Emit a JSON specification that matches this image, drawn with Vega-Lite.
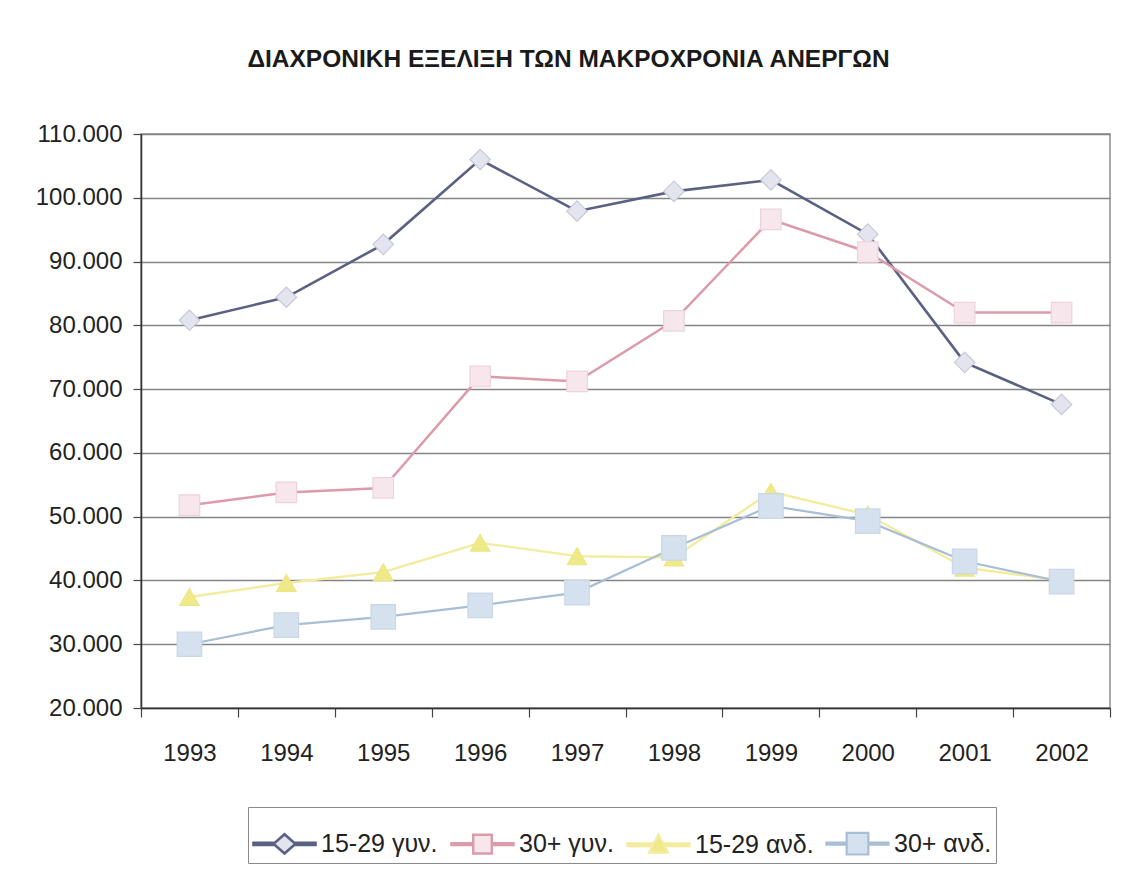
{
  "$schema": "https://vega.github.io/schema/vega-lite/v6.json",
  "width": 969,
  "height": 574,
  "autosize": "none",
  "padding": {"left": 141, "top": 134, "right": 13, "bottom": 167},
  "background": "#ffffff",
  "title": {
    "text": "ΔΙΑΧΡΟΝΙΚΗ ΕΞΕΛΙΞΗ ΤΩΝ ΜΑΚΡΟΧΡΟΝΙΑ ΑΝΕΡΓΩΝ",
    "font": "Liberation Sans",
    "fontSize": 24.5,
    "fontWeight": "bold",
    "color": "#1a1a1a",
    "anchor": "middle",
    "dx": -57,
    "offset": 50
  },
  "config": {
    "view": {"stroke": "#8c8c8c", "strokeWidth": 1.5},
    "axis": {
      "labelFont": "Liberation Sans",
      "labelFontSize": 24,
      "labelColor": "#222222",
      "domainColor": "#333333",
      "domainWidth": 1.5,
      "tickColor": "#444444",
      "tickWidth": 1.2,
      "title": null
    }
  },
  "data": {
    "values": [
      {"year": "1993", "series": "15-29 γυν.", "value": 80800},
      {"year": "1994", "series": "15-29 γυν.", "value": 84400},
      {"year": "1995", "series": "15-29 γυν.", "value": 92700},
      {"year": "1996", "series": "15-29 γυν.", "value": 106000},
      {"year": "1997", "series": "15-29 γυν.", "value": 97900},
      {"year": "1998", "series": "15-29 γυν.", "value": 101000},
      {"year": "1999", "series": "15-29 γυν.", "value": 102800},
      {"year": "2000", "series": "15-29 γυν.", "value": 94300},
      {"year": "2001", "series": "15-29 γυν.", "value": 74200},
      {"year": "2002", "series": "15-29 γυν.", "value": 67600},
      {"year": "1993", "series": "30+ γυν.", "value": 51800},
      {"year": "1994", "series": "30+ γυν.", "value": 53800},
      {"year": "1995", "series": "30+ γυν.", "value": 54500},
      {"year": "1996", "series": "30+ γυν.", "value": 72000},
      {"year": "1997", "series": "30+ γυν.", "value": 71200},
      {"year": "1998", "series": "30+ γυν.", "value": 80700},
      {"year": "1999", "series": "30+ γυν.", "value": 96600},
      {"year": "2000", "series": "30+ γυν.", "value": 91500},
      {"year": "2001", "series": "30+ γυν.", "value": 82000},
      {"year": "2002", "series": "30+ γυν.", "value": 82000},
      {"year": "1993", "series": "15-29 ανδ.", "value": 37400},
      {"year": "1994", "series": "15-29 ανδ.", "value": 39600},
      {"year": "1995", "series": "15-29 ανδ.", "value": 41300},
      {"year": "1996", "series": "15-29 ανδ.", "value": 45900},
      {"year": "1997", "series": "15-29 ανδ.", "value": 43800},
      {"year": "1998", "series": "15-29 ανδ.", "value": 43600},
      {"year": "1999", "series": "15-29 ανδ.", "value": 53900},
      {"year": "2000", "series": "15-29 ανδ.", "value": 50300},
      {"year": "2001", "series": "15-29 ανδ.", "value": 42000},
      {"year": "2002", "series": "15-29 ανδ.", "value": 40000},
      {"year": "1993", "series": "30+ ανδ.", "value": 30000},
      {"year": "1994", "series": "30+ ανδ.", "value": 33000},
      {"year": "1995", "series": "30+ ανδ.", "value": 34300},
      {"year": "1996", "series": "30+ ανδ.", "value": 36100},
      {"year": "1997", "series": "30+ ανδ.", "value": 38100},
      {"year": "1998", "series": "30+ ανδ.", "value": 45100},
      {"year": "1999", "series": "30+ ανδ.", "value": 51700},
      {"year": "2000", "series": "30+ ανδ.", "value": 49300},
      {"year": "2001", "series": "30+ ανδ.", "value": 43000},
      {"year": "2002", "series": "30+ ανδ.", "value": 39800}
    ]
  },
  "encoding": {
    "x": {
      "field": "year",
      "type": "ordinal",
      "bandPosition": 0.5,
      "scale": {"type": "band", "paddingInner": 0, "paddingOuter": 0},
      "axis": {
        "labelAngle": 0,
        "tickBand": "extent",
        "tickSize": 9,
        "labelPadding": 24,
        "grid": false
      }
    },
    "y": {
      "field": "value",
      "type": "quantitative",
      "scale": {"domain": [20000, 110000], "nice": false, "zero": false},
      "axis": {
        "values": [20000, 30000, 40000, 50000, 60000, 70000, 80000, 90000, 100000, 110000],
        "labelExpr": "replace(format(datum.value, ',.0f'), ',', '.')",
        "grid": true,
        "gridColor": "#858585",
        "gridWidth": 1.3,
        "tickSize": 8,
        "labelPadding": 11
      }
    }
  },
  "layer": [
    {
      "mark": {"type": "line"},
      "encoding": {
        "color": {
          "field": "series",
          "type": "nominal",
          "sort": ["15-29 γυν.", "30+ γυν.", "15-29 ανδ.", "30+ ανδ."],
          "scale": {
            "domain": ["15-29 γυν.", "30+ γυν.", "15-29 ανδ.", "30+ ανδ."],
            "range": ["#5a6182", "#dc9bab", "#f2ec9c", "#a7bed5"]
          },
          "legend": {
            "orient": "none",
            "legendX": 107,
            "legendY": 673,
            "direction": "horizontal",
            "columns": 4,
            "title": null,
            "symbolSize": 3844,
            "labelFont": "Liberation Sans",
            "labelFontSize": 25,
            "labelColor": "#222222",
            "labelOffset": 4,
            "columnPadding": 8,
            "padding": 4,
            "strokeColor": "#8a8a8a",
            "fillColor": "#ffffff",
            "encode": {
              "symbols": {
                "update": {
                  "shape": {"signal": "datum.value === '15-29 γυν.' ? 'M-1,-0.035H-0.31L0,-0.31L0.31,-0.035H1V0.035H0.31L0,0.31L-0.31,0.035H-1Z' : datum.value === '30+ γυν.' ? 'M-1,-0.03H-0.3V-0.3H0.3V-0.03H1V0.03H0.3V0.3H-0.3V0.03H-1Z' : datum.value === '15-29 ανδ.' ? 'M-1,-0.04H-0.148L0,-0.32L0.148,-0.04H1V0.04H0.189L0.3,0.25H-0.3L-0.189,0.04H-1Z' : 'M-1,-0.035H-0.35V-0.35H0.35V-0.035H1V0.035H0.35V0.35H-0.35V0.035H-1Z'"},
                  "size": {"value": 3844},
                  "fill": {"signal": "datum.value === '15-29 γυν.' ? '#e4e4ef' : datum.value === '30+ γυν.' ? '#f7e7ed' : datum.value === '15-29 ανδ.' ? '#efe98a' : '#d5e1ee'"},
                  "stroke": {"signal": "datum.value === '15-29 γυν.' ? '#5a6182' : datum.value === '30+ γυν.' ? '#dc9bab' : datum.value === '15-29 ανδ.' ? '#f2ec9c' : '#a7bed5'"},
                  "strokeWidth": {"value": 1.3},
                  "opacity": {"value": 1},
                  "fillOpacity": {"value": 1}
                }
              }
            }
          }
        },
        "strokeWidth": {
          "field": "series",
          "type": "nominal",
          "scale": {
            "domain": ["15-29 γυν.", "30+ γυν.", "15-29 ανδ.", "30+ ανδ."],
            "range": [2.6, 2.2, 3, 2.4]
          },
          "legend": null
        }
      }
    },
    {
      "transform": [{"filter": "datum.series === '15-29 γυν.'"}],
      "mark": {"type": "point", "shape": "diamond", "filled": true, "opacity": 1, "size": 420, "fill": "#e4e4ef", "stroke": "#c8c9d8", "strokeWidth": 1.2}
    },
    {
      "transform": [{"filter": "datum.series === '30+ γυν.'"}],
      "mark": {"type": "point", "shape": "square", "filled": true, "opacity": 1, "size": 420, "fill": "#f7e7ed", "stroke": "#ecd3dc", "strokeWidth": 1.2}
    },
    {
      "transform": [{"filter": "datum.series === '15-29 ανδ.'"}],
      "mark": {"type": "point", "shape": "triangle-up", "filled": true, "opacity": 1, "size": 380, "fill": "#efe98a", "stroke": "#ede684", "strokeWidth": 1.2}
    },
    {
      "transform": [{"filter": "datum.series === '30+ ανδ.'"}],
      "mark": {"type": "point", "shape": "square", "filled": true, "opacity": 1, "size": 600, "fill": "#d5e1ee", "stroke": "#c9d7e6", "strokeWidth": 1.2}
    }
  ]
}
